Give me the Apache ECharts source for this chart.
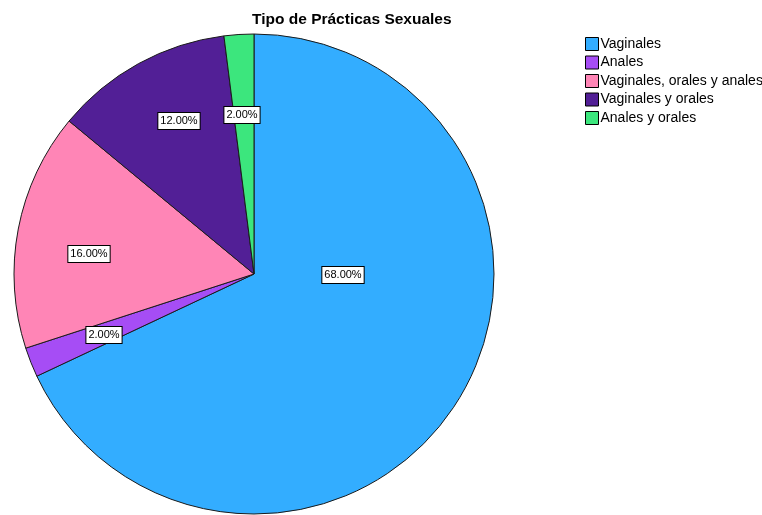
<!DOCTYPE html>
<html>
<head>
<meta charset="utf-8">
<script src="https://cdn.jsdelivr.net/npm/echarts@6/dist/echarts.min.js"></script>
<style>
  html, body { margin: 0; padding: 0; background: #fff; }
  #chart { width: 762px; height: 515px; }
</style>
</head>
<body>
<div id="chart"></div>
<script>
// Categories and their percentages
const categories = ['Vaginales', 'Anales', 'Vaginales, orales y anales', 'Vaginales y orales', 'Anales y orales'];
const percentages = [68, 2, 16, 12, 2];
const sliceColors = ['#33adff', '#a64df5', '#ff85b6', '#521f96', '#3ce67d'];
// Label box centres (pixels) for each slice
const labelCenters = [[343, 275], [104, 335], [89, 254], [179, 121], [242, 115]];

const chart = echarts.init(document.getElementById('chart'), null, { renderer: 'canvas' });

const data = categories.map((name, i) => ({
  name: name,
  value: percentages[i],
  itemStyle: { color: sliceColors[i] }
}));

chart.setOption({
  animation: false,
  title: {
    text: 'Tipo de Prácticas Sexuales',
    left: 252,
    top: 12,
    padding: 0,
    textStyle: { fontFamily: 'Liberation Sans, Arial, sans-serif', fontSize: 15.5, fontWeight: 'bold', color: '#000' }
  },
  legend: {
    orient: 'vertical',
    left: 585,
    top: 37,
    padding: 0,
    itemWidth: 13,
    itemHeight: 13,
    itemGap: 4.5,
    icon: 'rect',
    data: categories,
    itemStyle: { borderColor: '#000', borderWidth: 1 },
    textStyle: { fontFamily: 'Liberation Sans, Arial, sans-serif', fontSize: 14, color: '#000', padding: [0, 0, 0, -3] }
  },
  series: [{
    type: 'pie',
    center: [254, 274],
    radius: [0, 240],
    startAngle: 90,
    clockwise: true,
    data: data,
    itemStyle: { borderColor: '#1a1a1a', borderWidth: 1 },
    emphasis: { disabled: true },
    label: {
      show: true,
      position: 'inside',
      formatter: p => p.value.toFixed(2) + '%',
      fontFamily: 'Liberation Sans, Arial, sans-serif',
      fontSize: 11,
      color: '#000',
      backgroundColor: '#fff',
      borderColor: '#000',
      borderWidth: 1,
      padding: [3, 2, 2, 2]
    },
    labelLine: { show: false },
    labelLayout: function (params) {
      const c = labelCenters[params.dataIndex];
      return { x: c[0], y: c[1], align: 'center', verticalAlign: 'middle' };
    }
  }]
});
</script>
</body>
</html>
